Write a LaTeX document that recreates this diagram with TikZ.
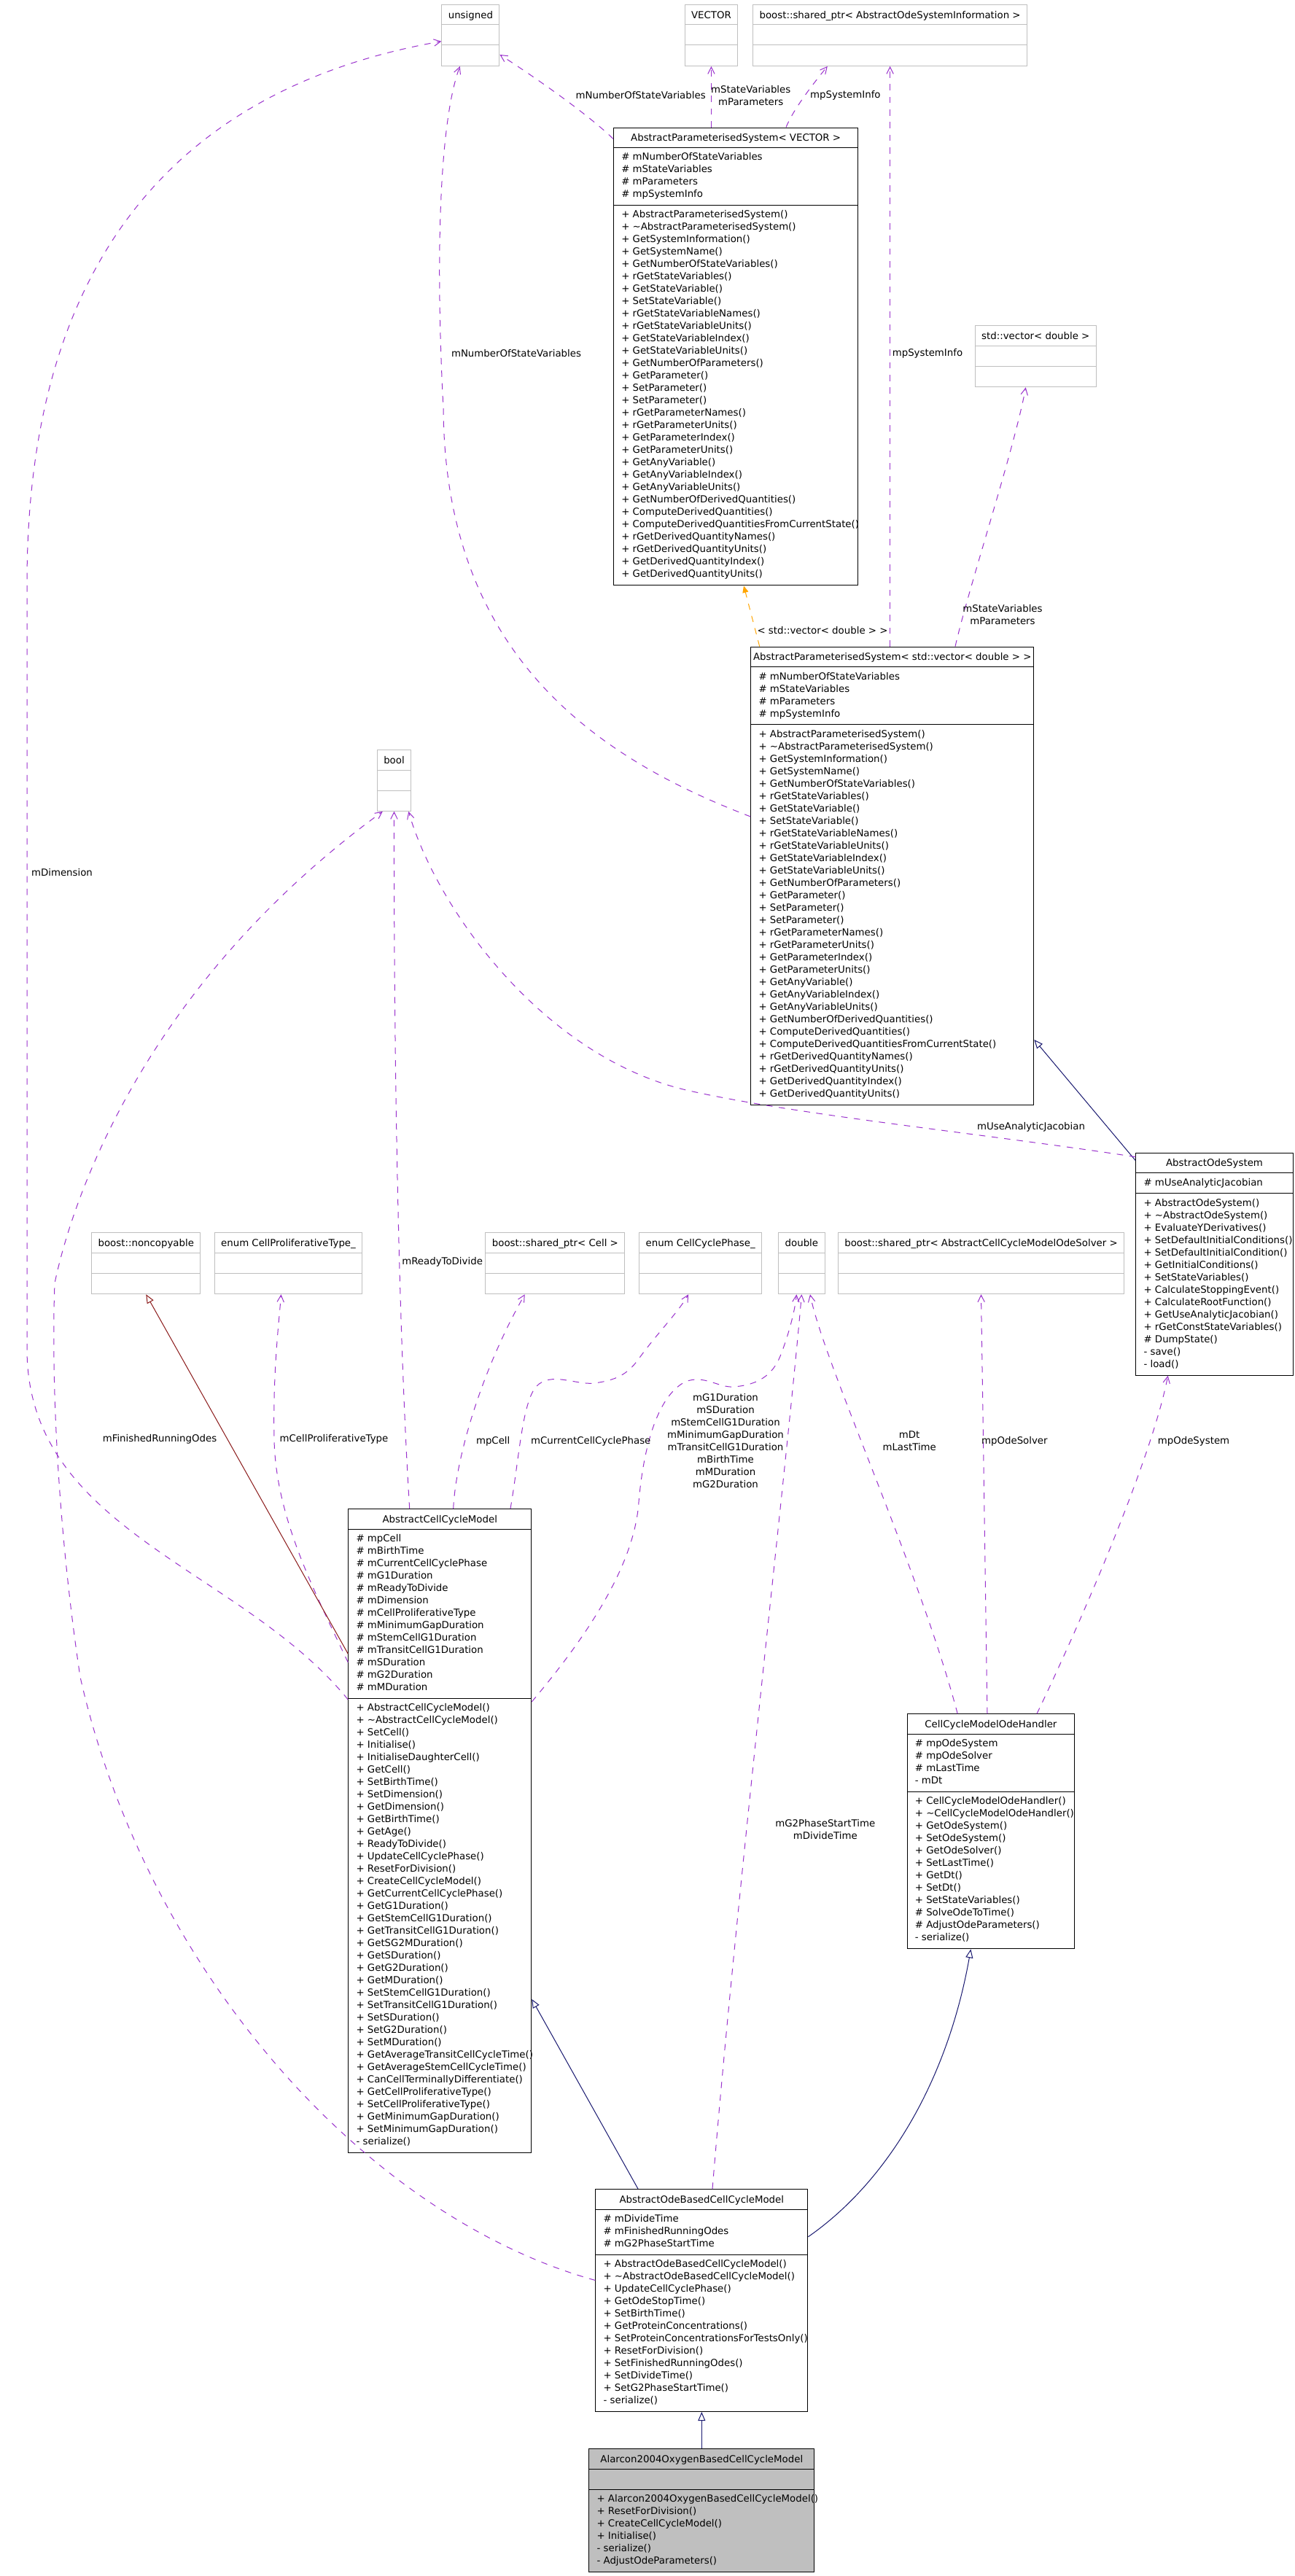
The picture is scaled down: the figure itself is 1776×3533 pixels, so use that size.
\documentclass[tikz,border=0pt]{standalone}
\usepackage{fontspec}
\setmainfont{DejaVu Sans}
\usetikzlibrary{arrows.meta,calc}
\definecolor{usecol}{HTML}{9A32CD}
\definecolor{inhcol}{HTML}{191970}
\definecolor{privcol}{HTML}{8B1A1A}
\definecolor{tplcol}{HTML}{FFA500}
\definecolor{gboxcol}{HTML}{BFBFBF}
\definecolor{alfill}{HTML}{BFBFBF}

\newcommand\fsr{\rule{0pt}{9pt}}
\newcommand\tld{\textasciitilde}

\tikzset{
  cfill/.style={fill=white},
  cbox/.style={draw=black, line width=0.75pt, inner xsep=0pt, inner ysep=0pt, text height=14pt, cfill},
  csep/.style={draw=black, line width=0.75pt},
  ctext/.style={anchor=north west, inner sep=0pt, align=left},
  gbox/.style={draw=gboxcol, fill=white, line width=0.75pt, inner xsep=6.75pt, inner ysep=0pt, text height=14pt, text depth=48.975pt},
  gsep/.style={draw=gboxcol, line width=0.75pt},
  use/.style={draw=usecol, line width=0.75pt, dash pattern=on 6.5pt off 6.5pt, -{Straight Barb[length=7pt,width=7pt]}},
  inh/.style={draw=inhcol, line width=0.75pt, -{Triangle[open,length=9pt,width=7.5pt]}},
  priv/.style={draw=privcol, line width=0.75pt, -{Triangle[open,length=9pt,width=7.5pt]}},
  tmpl/.style={draw=tplcol, line width=0.75pt, dash pattern=on 6.5pt off 6.5pt, -{Triangle[length=7pt,width=6pt]}},
  lbl/.style={inner sep=0pt, align=center, text=black},
}

\newcommand\classbox[9]{%
  \pgfmathsetmacro\hA{(#6==0) ? 28 : 17*#6+11}%
  \pgfmathsetmacro\hM{(#8==0) ? 28 : 17*#8+11}%
  \pgfmathsetmacro\dep{(28+\hA+\hM-18.7)*0.75}%
  \node[cbox, anchor=north west, minimum width=#4*0.75pt, text depth=\dep pt] (#1) at (#2,#3) {#5};
  \draw[csep] ($(#1.north west)+(0,28)$) -- ($(#1.north east)+(0,28)$);
  \draw[csep] ($(#1.north west)+(0,28+\hA)$) -- ($(#1.north east)+(0,28+\hA)$);
  \node[ctext] (#1-a) at ($(#1.north west)+(11,33.2)$) {\fsr#7};
  \node[ctext] (#1-m) at ($(#1.north west)+(11,33.2+\hA)$) {\fsr#9};
}

\newcommand\gclass[4]{%
  \node[gbox, anchor=north] (#1) at (#2,#3) {#4};
  \draw[gsep] ($(#1.north west)+(0,28)$) -- ($(#1.north east)+(0,28)$);
  \draw[gsep] ($(#1.north west)+(0,56)$) -- ($(#1.north east)+(0,56)$);
}

\newcommand\apsattrs{\# mNumberOfStateVariables\\\# mStateVariables\\\# mParameters\\\# mpSystemInfo}
\newcommand\apsmethods{+ AbstractParameterisedSystem()\\+ \tld AbstractParameterisedSystem()\\+ GetSystemInformation()\\+ GetSystemName()\\+ GetNumberOfStateVariables()\\+ rGetStateVariables()\\+ GetStateVariable()\\+ SetStateVariable()\\+ rGetStateVariableNames()\\+ rGetStateVariableUnits()\\+ GetStateVariableIndex()\\+ GetStateVariableUnits()\\+ GetNumberOfParameters()\\+ GetParameter()\\+ SetParameter()\\+ SetParameter()\\+ rGetParameterNames()\\+ rGetParameterUnits()\\+ GetParameterIndex()\\+ GetParameterUnits()\\+ GetAnyVariable()\\+ GetAnyVariableIndex()\\+ GetAnyVariableUnits()\\+ GetNumberOfDerivedQuantities()\\+ ComputeDerivedQuantities()\\+ ComputeDerivedQuantitiesFromCurrentState()\\+ rGetDerivedQuantityNames()\\+ rGetDerivedQuantityUnits()\\+ GetDerivedQuantityIndex()\\+ GetDerivedQuantityUnits()}

\begin{document}
\fontsize{10}{12.75}\selectfont
\begin{tikzpicture}[x=0.75pt,y=-0.75pt, every node/.append style={font=\fontsize{10}{12.75}\selectfont}]
\fill[white] (0,0) rectangle (1776,3533);
\useasboundingbox (0,0) rectangle (1776,3533);

% ---------- plain type boxes ----------
\gclass{unsigned}{645.4}{6}{unsigned}
\gclass{vector}{975.4}{6}{VECTOR}
\gclass{aosi}{1220.6}{6}{boost::shared\_ptr< AbstractOdeSystemInformation >}
\gclass{stdvec}{1420.3}{446.3}{std::vector< double >}
\gclass{bool}{540.5}{1028}{bool}
\gclass{noncopy}{200.3}{1690.3}{boost::noncopyable}
\gclass{cpt}{395.5}{1690.3}{enum CellProliferativeType\_}
\gclass{cellptr}{761.4}{1690.3}{boost::shared\_ptr< Cell >}
\gclass{ccp}{960.7}{1690.3}{enum CellCyclePhase\_}
\gclass{double}{1099.4}{1690.3}{double}
\gclass{solver}{1345.5}{1690.3}{boost::shared\_ptr< AbstractCellCycleModelOdeSolver >}

% ---------- class boxes ----------
\classbox{apv}{841}{174.5}{335.3}{AbstractParameterisedSystem< VECTOR >}{4}{\apsattrs}{30}{\apsmethods}
\classbox{apsd}{1029.3}{886.6}{388}{AbstractParameterisedSystem< std::vector< double > >}{4}{\apsattrs}{30}{\apsmethods}
\classbox{aos}{1557.3}{1580.7}{215.4}{AbstractOdeSystem}{1}{\# mUseAnalyticJacobian}{14}{+ AbstractOdeSystem()\\+ \tld AbstractOdeSystem()\\+ EvaluateYDerivatives()\\+ SetDefaultInitialConditions()\\+ SetDefaultInitialCondition()\\+ GetInitialConditions()\\+ SetStateVariables()\\+ CalculateStoppingEvent()\\+ CalculateRootFunction()\\+ GetUseAnalyticJacobian()\\+ rGetConstStateVariables()\\\# DumpState()\\- save()\\- load()}
\classbox{accm}{477.3}{2069}{251}{AbstractCellCycleModel}{13}{\# mpCell\\\# mBirthTime\\\# mCurrentCellCyclePhase\\\# mG1Duration\\\# mReadyToDivide\\\# mDimension\\\# mCellProliferativeType\\\# mMinimumGapDuration\\\# mStemCellG1Duration\\\# mTransitCellG1Duration\\\# mSDuration\\\# mG2Duration\\\# mMDuration}{36}{+ AbstractCellCycleModel()\\+ \tld AbstractCellCycleModel()\\+ SetCell()\\+ Initialise()\\+ InitialiseDaughterCell()\\+ GetCell()\\+ SetBirthTime()\\+ SetDimension()\\+ GetDimension()\\+ GetBirthTime()\\+ GetAge()\\+ ReadyToDivide()\\+ UpdateCellCyclePhase()\\+ ResetForDivision()\\+ CreateCellCycleModel()\\+ GetCurrentCellCyclePhase()\\+ GetG1Duration()\\+ GetStemCellG1Duration()\\+ GetTransitCellG1Duration()\\+ GetSG2MDuration()\\+ GetSDuration()\\+ GetG2Duration()\\+ GetMDuration()\\+ SetStemCellG1Duration()\\+ SetTransitCellG1Duration()\\+ SetSDuration()\\+ SetG2Duration()\\+ SetMDuration()\\+ GetAverageTransitCellCycleTime()\\+ GetAverageStemCellCycleTime()\\+ CanCellTerminallyDifferentiate()\\+ GetCellProliferativeType()\\+ SetCellProliferativeType()\\+ GetMinimumGapDuration()\\+ SetMinimumGapDuration()\\- serialize()}
\classbox{ccmoh}{1243.6}{2350.3}{229.6}{CellCycleModelOdeHandler}{4}{\# mpOdeSystem\\\# mpOdeSolver\\\# mLastTime\\- mDt}{12}{+ CellCycleModelOdeHandler()\\+ \tld CellCycleModelOdeHandler()\\+ GetOdeSystem()\\+ SetOdeSystem()\\+ GetOdeSolver()\\+ SetLastTime()\\+ GetDt()\\+ SetDt()\\+ SetStateVariables()\\\# SolveOdeToTime()\\\# AdjustOdeParameters()\\- serialize()}
\classbox{aobccm}{816.3}{3002}{291}{AbstractOdeBasedCellCycleModel}{3}{\# mDivideTime\\\# mFinishedRunningOdes\\\# mG2PhaseStartTime}{12}{+ AbstractOdeBasedCellCycleModel()\\+ \tld AbstractOdeBasedCellCycleModel()\\+ UpdateCellCyclePhase()\\+ GetOdeStopTime()\\+ SetBirthTime()\\+ GetProteinConcentrations()\\+ SetProteinConcentrationsForTestsOnly()\\+ ResetForDivision()\\+ SetFinishedRunningOdes()\\+ SetDivideTime()\\+ SetG2PhaseStartTime()\\- serialize()}
\begin{scope}[cfill/.style={fill=alfill}]
\classbox{alarcon}{807.3}{3358.4}{309}{Alarcon2004OxygenBasedCellCycleModel}{0}{}{6}{+ Alarcon2004OxygenBasedCellCycleModel()\\+ ResetForDivision()\\+ CreateCellCycleModel()\\+ Initialise()\\- serialize()\\- AdjustOdeParameters()}
\end{scope}

% ---------- connectors ----------
\draw[use] ($(apv.north west)+(0,16)$) .. controls (810,160) and (740,110) .. ($(unsigned.south east)+(0,-16)$);
\draw[use] (vector.south |- apv.north) -- (vector.south);
\draw[use] ($(apv.north west)+(237,0)$) .. controls (1088,150) and (1115,115) .. ($(aosi.south west)+(102.7,0)$);
\draw[use] (aosi.south |- apsd.north) -- (aosi.south);
\draw[tmpl] ($(apsd.north west)+(12.4,0)$) -- ($(apv.south west)+(179,0)$);
\draw[use] ($(apsd.north west)+(280.7,0)$) .. controls (1330,800) and (1390,620) .. ($(stdvec.south west)+(70,0)$);
\draw[use] ($(apsd.north west)+(0,233.4)$) .. controls (820,1040) and (610,900) .. (608,560) .. controls (596,330) and (605,160) .. ($(unsigned.south west)+(25.4,0)$);
\draw[inh] ($(aos.north west)+(0,11)$) -- ($(apsd.north east)+(0,539.3)$);
\draw[use] ($(aos.north west)+(0,6)$) .. controls (1350,1555) and (1100,1530) .. (950,1497) .. controls (750,1455) and (600,1250) .. ($(bool.south east)+(-4,0)$);
\draw[use] ($(accm.north west)+(84.4,0)$) .. controls (545,1800) and (540,1400) .. (bool.south);
\draw[use] ($(aobccm.north west)+(0,125.4)$) .. controls (500,3040) and (200,2700) .. (110,2300) .. controls (80,2100) and (70,1900) .. (75,1760) .. controls (100,1640) and (200,1350) .. ($(bool.south west)+(8,0)$);
\draw[use] ($(accm.north west)+(0,262)$) .. controls (330,2150) and (37,2100) .. (37,1850) -- (37,800) .. controls (37,300) and (300,110) .. ($(unsigned.north west)+(0,50.7)$);
\draw[use] ($(accm.north west)+(0,211)$) .. controls (430,2180) and (378,2080) .. (376,1974) .. controls (374,1880) and (383,1810) .. ($(cpt.south)+(-10,0)$);
\draw[priv] ($(accm.north west)+(0,199.2)$) -- (noncopy.south);
\draw[use] ($(accm.north west)+(144.4,0)$) .. controls (625,2000) and (660,1880) .. ($(cellptr.south west)+(54.3,0)$);
\draw[use] ($(accm.north west)+(222.7,0)$) .. controls (712,2000) and (716,1925) .. (735,1902) .. controls (755,1880) and (790,1900) .. (815,1897) .. controls (845,1893) and (860,1885) .. (875,1865) .. controls (900,1830) and (930,1800) .. ($(ccp.south west)+(68,0)$);
\draw[use] ($(accm.north east)+(0,265)$) .. controls (800,2250) and (870,2150) .. (876,2060) .. controls (882,1990) and (900,1915) .. (940,1895) .. controls (965,1885) and (985,1903) .. (1005,1902) .. controls (1040,1900) and (1060,1885) .. (1070,1860) .. controls (1080,1835) and (1090,1800) .. ($(double.south)+(-7,0)$);
\draw[use] ($(aobccm.north west)+(160.7,0)$) .. controls (1010,2600) and (1080,2000) .. (double.south);
\draw[use] ($(ccmoh.north west)+(69.6,0)$) .. controls (1260,2150) and (1130,1870) .. ($(double.south)+(11.6,0)$);
\draw[use] ($(ccmoh.north west)+(110.4,0)$) -- (solver.south);
\draw[use] ($(ccmoh.north west)+(178.4,0)$) .. controls (1480,2230) and (1580,2000) .. ($(aos.south west)+(44.4,0)$);
\draw[inh] ($(aobccm.north west)+(58.7,0)$) -- ($(accm.north east)+(0,672.8)$);
\draw[inh] ($(aobccm.north east)+(0,65.8)$) .. controls (1220,2990) and (1300,2850) .. ($(ccmoh.south west)+(87.8,0)$);
\draw[inh] (alarcon.north) -- (aobccm.south);

% ---------- connector labels ----------
\node[lbl] (l1) at (878.7,130.7) {mNumberOfStateVariables};
\node[lbl] (l2) at (1029.7,131.3) {mStateVariables\\mParameters};
\node[lbl] (l3) at (1159.4,130.7) {mpSystemInfo};
\node[lbl] (l4) at (708,484.6) {mNumberOfStateVariables};
\node[lbl] (l5) at (1272,484.6) {mpSystemInfo};
\node[lbl] (l6) at (1128,865) {< std::vector< double > >};
\node[lbl] (l7) at (1375,842.8) {mStateVariables\\mParameters};
\node[lbl] (l8) at (85,1197) {mDimension};
\node[lbl, anchor=west] (l9) at (551,1730.7) {mReadyToDivide};
\node[lbl] (l10) at (1414,1546) {mUseAnalyticJacobian};
\node[lbl] (l11) at (219,1974) {mFinishedRunningOdes};
\node[lbl] (l12) at (458,1974) {mCellProliferativeType};
\node[lbl] (l13) at (676.2,1976.7) {mpCell};
\node[lbl] (l14) at (810.3,1976.7) {mCurrentCellCyclePhase};
\node[lbl] (l15) at (995,1976.2) {mG1Duration\\mSDuration\\mStemCellG1Duration\\mMinimumGapDuration\\mTransitCellG1Duration\\mBirthTime\\mMDuration\\mG2Duration};
\node[lbl] (l16) at (1247.2,1976) {mDt\\mLastTime};
\node[lbl] (l17) at (1391.4,1976.7) {mpOdeSolver};
\node[lbl] (l18) at (1637,1976.7) {mpOdeSystem};
\node[lbl] (l19) at (1131.8,2509) {mG2PhaseStartTime\\mDivideTime};
\end{tikzpicture}
\end{document}
